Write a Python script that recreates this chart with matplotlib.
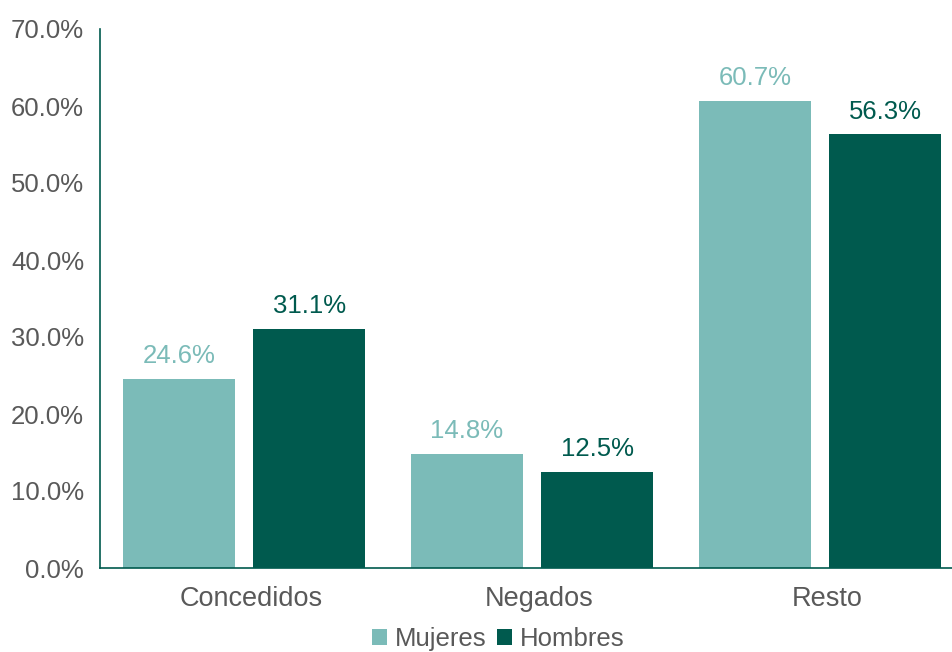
import matplotlib
matplotlib.use("Agg")
import matplotlib.pyplot as plt
import matplotlib.transforms as mtransforms
import numpy as np

categorias = ["Concedidos", "Negados", "Resto"]
mujeres = [24.6, 14.8, 60.7]
hombres = [31.1, 12.5, 56.3]
yticks = [0, 10, 20, 30, 40, 50, 60, 70]

CLARO = "#7BBBB8"
OSCURO = "#005A4E"
GRIS = "#595959"

plt.rcParams["font.family"] = ["Liberation Sans", "DejaVu Sans"]

fig = plt.figure(figsize=(9.52, 6.52), dpi=100)
ax = fig.add_axes([100 / 952, 84 / 652, 864 / 952, 539 / 652])

x = np.arange(len(categorias))
w = 0.39
off = 0.226
b1 = ax.bar(x - off, mujeres, w, color=CLARO, label="Mujeres")
b2 = ax.bar(x + off, hombres, w, color=OSCURO, label="Hombres")

for b, v in zip(b1, mujeres):
    ax.text(b.get_x() + b.get_width() / 2, v + 1.4, f"{v:.1f}%",
            ha="center", va="bottom", fontsize=18.5, color=CLARO)
for b, v in zip(b2, hombres):
    ax.text(b.get_x() + b.get_width() / 2, v + 1.4, f"{v:.1f}%",
            ha="center", va="bottom", fontsize=18.5, color=OSCURO)

ax.set_xlim(-0.5, 2.5)
ax.set_ylim(0, 70)
ax.set_yticks(yticks, [f"{t:.1f}%" for t in yticks])
ax.set_xticks(x, categorias)
ax.tick_params(axis="both", length=0, colors=GRIS)
ax.tick_params(axis="y", pad=11.5, labelsize=18.5)
ax.tick_params(axis="x", pad=13, labelsize=19.5)
# etiquetas de categoria algo corridas a la derecha, como en el original
desplaza = mtransforms.ScaledTranslation(7 / 100, 0, fig.dpi_scale_trans)
for lab in ax.get_xticklabels():
    lab.set_transform(lab.get_transform() + desplaza)
for s in ["top", "right"]:
    ax.spines[s].set_visible(False)
for s in ["left", "bottom"]:
    ax.spines[s].set_color(OSCURO)
    ax.spines[s].set_linewidth(1.2)

fig.legend(loc="center", bbox_to_anchor=(498 / 952, 1 - 639 / 652), ncol=2,
           frameon=False, fontsize=18.5, labelcolor=GRIS, handlelength=0.6,
           handleheight=0.6, handletextpad=0.3, columnspacing=0.4)

fig.savefig("out.png", dpi=100)
